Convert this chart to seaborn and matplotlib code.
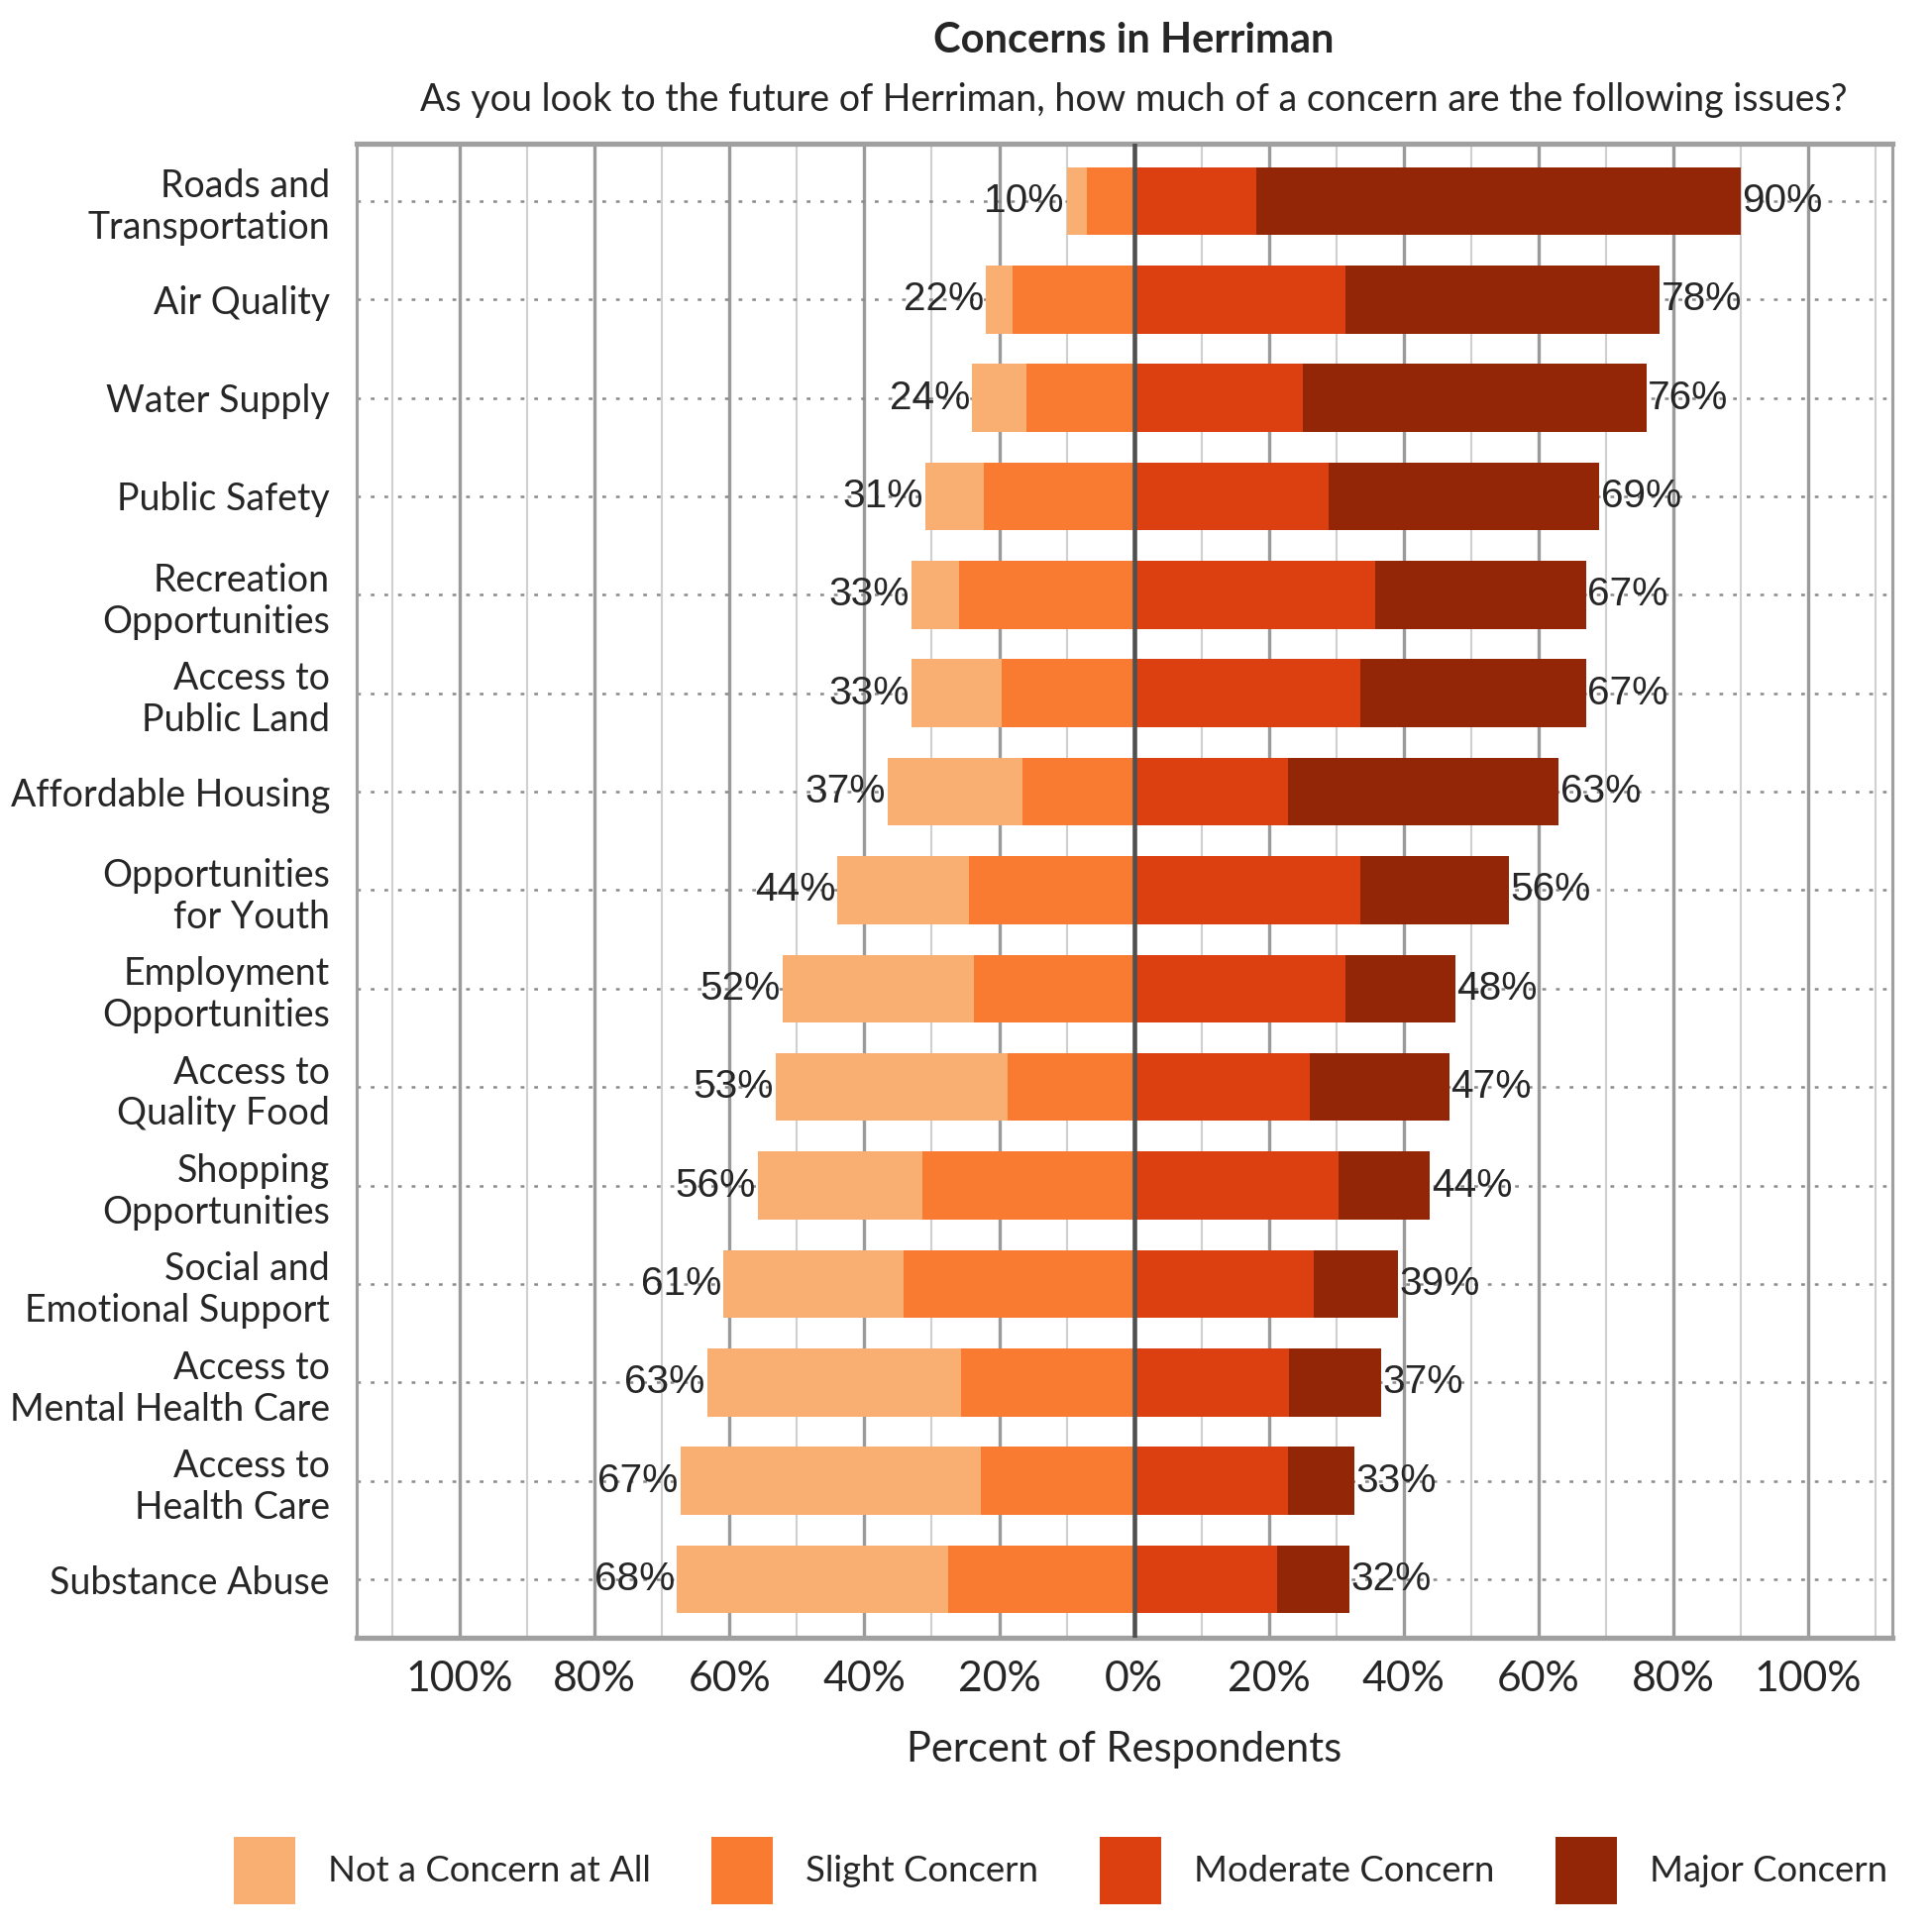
import numpy as np
import pandas as pd
import seaborn as sns
import matplotlib
import matplotlib.pyplot as plt
from matplotlib.patches import Patch

matplotlib.use("Agg")

categories = ["Roads and\nTransportation", "Air Quality", "Water Supply", "Public Safety",
              "Recreation\nOpportunities", "Access to\nPublic Land", "Affordable Housing",
              "Opportunities\nfor Youth", "Employment\nOpportunities", "Access to\nQuality Food",
              "Shopping\nOpportunities", "Social and\nEmotional Support", "Access to\nMental Health Care",
              "Access to\nHealth Care", "Substance Abuse"]
not_concern = [3, 4, 8, 8.7, 7, 13.3, 20, 19.5, 28.3, 34.4, 24.4, 26.7, 37.7, 44.6, 40.2]
slight = [7, 18, 16, 22.3, 26, 19.7, 16.6, 24.5, 23.8, 18.8, 31.4, 34.2, 25.6, 22.7, 27.6]
moderate = [18.1, 31.4, 25, 28.9, 35.8, 33.5, 22.9, 33.5, 31.4, 26, 30.3, 26.7, 23, 22.9, 21.2]
major = [71.9, 46.6, 51, 40.1, 31.2, 33.5, 40.1, 22.1, 16.3, 20.8, 13.6, 12.4, 13.6, 9.8, 10.8]

series_names = ["Not a Concern at All", "Slight Concern", "Moderate Concern", "Major Concern"]
colors = ["#FAAF72", "#F97A31", "#DC4010", "#922607"]
xticks = [-100, -80, -60, -40, -20, 0, 20, 40, 60, 80, 100]

df = pd.DataFrame({"cat": categories, "not": not_concern, "slight": slight,
                   "moderate": moderate, "major": major})
df["neg_total"] = -(df["not"] + df["slight"])
df["neg_slight"] = -df["slight"]
df["pos_total"] = df["moderate"] + df["major"]

sns.set_style("white")
plt.rcParams["font.family"] = ["Lato", "DejaVu Sans"]

fig = plt.figure(figsize=(13, 13), dpi=150)
ax = fig.add_axes([0.1846, 0.1525, 0.795, 0.773])

# grid behind bars
for v in range(-110, 111, 10):
    if v == 0:
        continue
    major_line = v % 20 == 0
    ax.axvline(v, color="#9a9a9a" if major_line else "#d0d0d0",
               lw=1.6 if major_line else 1.0, zorder=0)
for i in range(len(categories)):
    ax.axhline(i, color="#8a8a8a", lw=1.2, ls=(0, (1.5, 4)), zorder=0.5)

bw = 0.69
sns.barplot(data=df, x="neg_total", y="cat", color=colors[0], width=bw, orient="h",
            saturation=1, ax=ax, zorder=2)
sns.barplot(data=df, x="neg_slight", y="cat", color=colors[1], width=bw, orient="h",
            saturation=1, ax=ax, zorder=2)
sns.barplot(data=df, x="pos_total", y="cat", color=colors[3], width=bw, orient="h",
            saturation=1, ax=ax, zorder=2)
sns.barplot(data=df, x="moderate", y="cat", color=colors[2], width=bw, orient="h",
            saturation=1, ax=ax, zorder=2)
for p in ax.patches:
    p.set_edgecolor("none")

ax.axvline(0, color="#505050", lw=2.2, zorder=3)

pct_font = ["Liberation Sans", "DejaVu Sans"]
for i, row in df.iterrows():
    ax.text(row["neg_total"] - 0.3, i, f"{round(-row['neg_total']):.0f}%", ha="right", va="center",
            fontsize=19.5, family=pct_font, zorder=4)
    ax.text(row["pos_total"] + 0.2, i, f"{round(row['pos_total']):.0f}%", ha="left", va="center",
            fontsize=19.5, family=pct_font, zorder=4)

ax.set_xlim(-115.3, 112.5)
ax.set_ylim(len(categories) - 0.41, -0.58)
ax.set_xticks(xticks)
ax.set_xticklabels([f"{abs(t)}%" for t in xticks], fontsize=20.5)
ax.tick_params(axis="y", labelsize=18, length=0, pad=13)
ax.tick_params(axis="x", length=0, pad=11)
ax.set_ylabel("")
ax.set_xlabel("Percent of Respondents", fontsize=20, labelpad=16)
for lbl in ax.get_yticklabels():
    lbl.set_horizontalalignment("right")
for s in ax.spines.values():
    s.set_color("#a0a0a0")
    s.set_linewidth(1.5)
ax.spines["top"].set_linewidth(2.5)
ax.spines["bottom"].set_linewidth(2.5)

x0 = ax.transData.transform((0, 0))[0] / fig.bbox.width
fig.text(x0, 0.979, "Concerns in Herriman", ha="center", va="center", fontsize=20, fontweight="bold")
fig.text(x0, 0.948, "As you look to the future of Herriman, how much of a concern are the following issues?",
         ha="center", va="center", fontsize=18)

handles = [Patch(facecolor=c, edgecolor="none") for c in colors]
fig.legend(handles, series_names, loc="center", bbox_to_anchor=(0.549, 0.032), ncol=4,
           frameon=False, fontsize=17.5, handlelength=1.7, handleheight=2.5,
           columnspacing=1.7, handletextpad=0.9)

fig.savefig("out.png", dpi=150)
